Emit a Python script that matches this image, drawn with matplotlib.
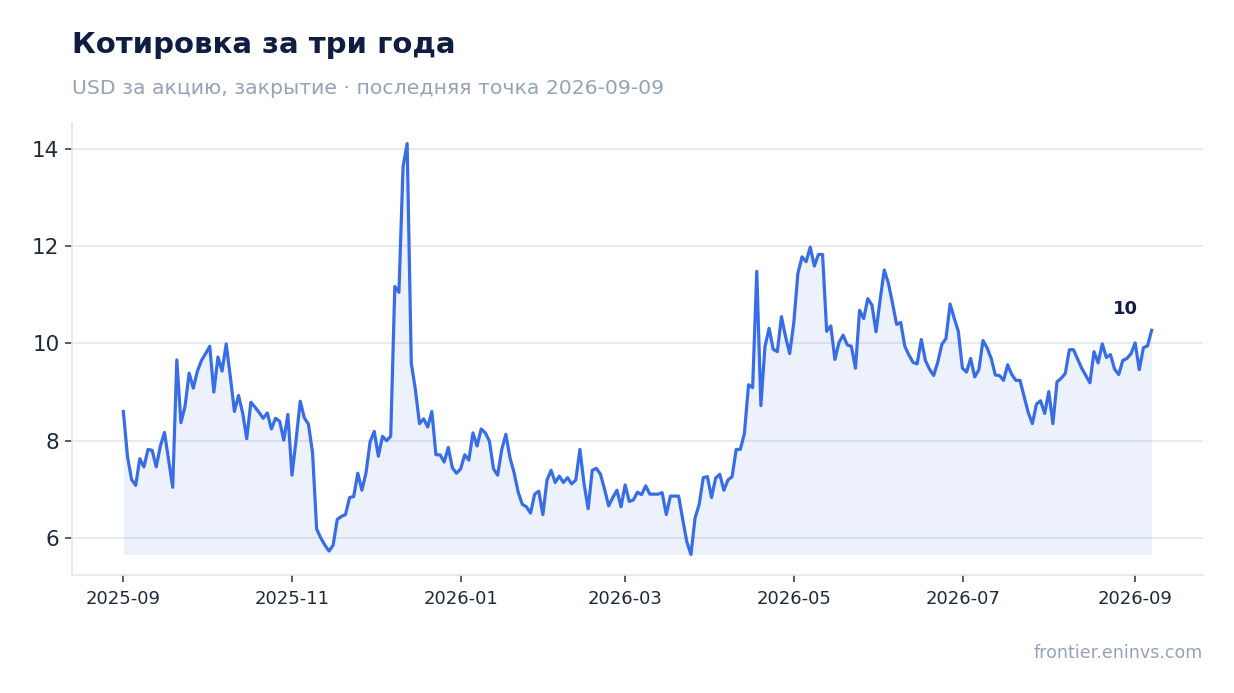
import pandas as pd
import matplotlib
matplotlib.use('Agg')
import matplotlib.pyplot as plt
import matplotlib.dates as mdates

# котировки (закрытие)
start_date = '2025-09-01'
end_date = '2026-09-07'
prices = [
    8.60, 7.68, 7.20, 7.08, 7.63, 7.46, 7.82, 7.80, 7.46, 7.89,
    8.17, 7.61, 7.04, 9.66, 8.37, 8.71, 9.39, 9.08, 9.43, 9.65,
    9.79, 9.94, 9.00, 9.72, 9.43, 9.99, 9.32, 8.60, 8.93, 8.57,
    8.04, 8.79, 8.69, 8.58, 8.46, 8.57, 8.24, 8.46, 8.40, 8.01,
    8.54, 7.29, 8.02, 8.81, 8.47, 8.34, 7.75, 6.18, 6.00, 5.85,
    5.73, 5.85, 6.38, 6.44, 6.48, 6.83, 6.85, 7.33, 6.98, 7.34,
    7.98, 8.19, 7.68, 8.09, 8.00, 8.09, 11.17, 11.05, 13.63, 14.11,
    9.60, 9.05, 8.35, 8.45, 8.28, 8.60, 7.71, 7.71, 7.56, 7.86,
    7.44, 7.33, 7.42, 7.71, 7.60, 8.16, 7.89, 8.24, 8.16, 7.99,
    7.42, 7.29, 7.82, 8.13, 7.65, 7.34, 6.94, 6.69, 6.64, 6.51,
    6.90, 6.96, 6.48, 7.19, 7.39, 7.14, 7.27, 7.14, 7.24, 7.11,
    7.19, 7.82, 7.12, 6.60, 7.39, 7.43, 7.31, 7.00, 6.66, 6.83,
    6.98, 6.64, 7.09, 6.75, 6.78, 6.94, 6.89, 7.07, 6.90, 6.90,
    6.90, 6.93, 6.48, 6.86, 6.86, 6.86, 6.38, 5.92, 5.66, 6.41,
    6.69, 7.24, 7.26, 6.83, 7.23, 7.31, 6.98, 7.19, 7.26, 7.82,
    7.82, 8.15, 9.15, 9.09, 11.48, 8.72, 9.94, 10.31, 9.88, 9.83,
    10.55, 10.14, 9.79, 10.42, 11.44, 11.78, 11.68, 11.98, 11.59, 11.83,
    11.83, 10.25, 10.36, 9.67, 10.02, 10.17, 9.97, 9.94, 9.49, 10.68,
    10.51, 10.92, 10.79, 10.24, 10.90, 11.51, 11.24, 10.83, 10.39, 10.43,
    9.94, 9.76, 9.61, 9.58, 10.08, 9.65, 9.47, 9.34, 9.61, 9.98,
    10.10, 10.81, 10.52, 10.25, 9.49, 9.41, 9.69, 9.31, 9.46, 10.06,
    9.91, 9.69, 9.35, 9.34, 9.24, 9.56, 9.36, 9.24, 9.24, 8.91,
    8.58, 8.35, 8.75, 8.82, 8.56, 9.01, 8.35, 9.21, 9.28, 9.38,
    9.87, 9.87, 9.68, 9.49, 9.34, 9.19, 9.83, 9.60, 9.99, 9.71,
    9.77, 9.47, 9.36, 9.65, 9.69, 9.79, 10.01, 9.46, 9.91, 9.95,
    10.27,
]

title = 'Котировка за три года'
subtitle = 'USD за акцию, закрытие · последняя точка 2026-09-09'
source = 'frontier.eninvs.com'

dates = pd.date_range(start_date, end_date, periods=len(prices))

line_color = '#386de8'
navy = '#0f1d40'
muted = '#94a3b8'
grid_color = '#e2e8f0'

fig = plt.figure(figsize=(12.34, 6.93), dpi=100)
ax = fig.add_axes([0.0583, 0.1703, 0.9166, 0.6522])

ax.fill_between(dates, prices, min(prices), color=line_color, alpha=0.09, linewidth=0)
ax.plot(dates, prices, color=line_color, linewidth=2.3)

ax.annotate(f'{prices[-1]:.0f}', (dates[-1], prices[-1]), xytext=(-19, 15),
            textcoords='offset points', ha='center', va='center',
            fontsize=13, fontweight='bold', color=navy)

ax.xaxis.set_major_locator(mdates.MonthLocator(bymonth=[1, 3, 5, 7, 9, 11]))
ax.xaxis.set_major_formatter(mdates.DateFormatter('%Y-%m'))
ax.set_yticks([6, 8, 10, 12, 14])

ax.grid(axis='y', color=grid_color, linewidth=1.2)
ax.set_axisbelow(True)
for s in ['top', 'right']:
    ax.spines[s].set_visible(False)
for s in ['left', 'bottom']:
    ax.spines[s].set_color(grid_color)
    ax.spines[s].set_linewidth(1.2)
ax.tick_params(axis='x', labelsize=13, length=5, width=1.2, pad=6)
ax.tick_params(axis='y', labelsize=15.5, length=5, width=1.2, pad=4)
ax.tick_params(colors='#334155', which='both')
for lbl in ax.get_xticklabels() + ax.get_yticklabels():
    lbl.set_color('#1e293b')

fig.text(0.0583, 1 - 53 / 693, title, fontsize=21, fontweight='bold', color=navy, ha='left', va='baseline')
fig.text(0.0583, 1 - 94 / 693, subtitle, fontsize=14.7, color=muted, ha='left', va='baseline')
fig.text(0.9749, 1 - 658 / 693, source, fontsize=12.6, color=muted, ha='right', va='baseline')

fig.savefig('out.png', dpi=100)
